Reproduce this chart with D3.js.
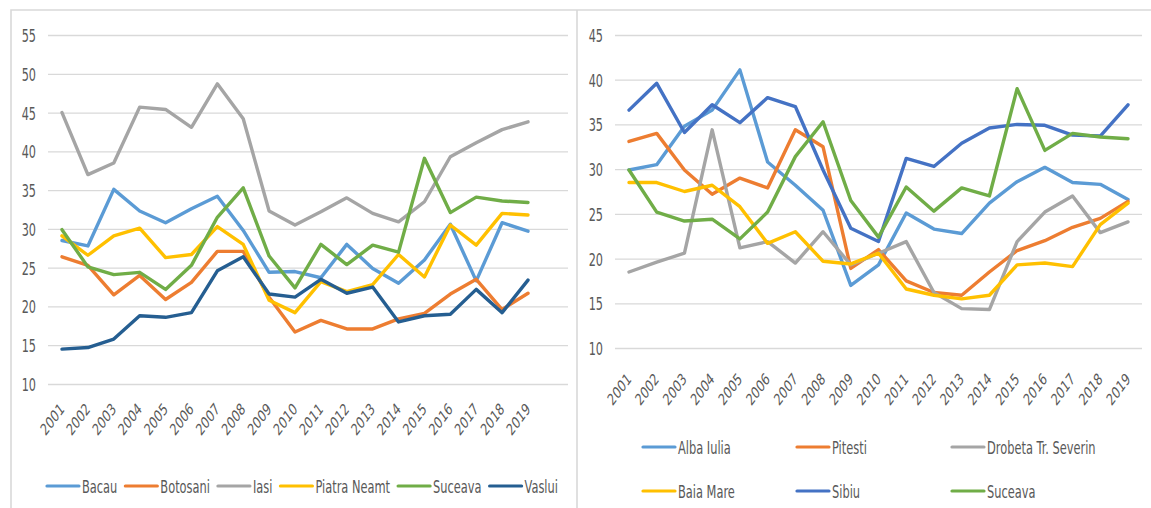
<!DOCTYPE html>
<html>
<head>
<meta charset="utf-8">
<script src="https://cdn.jsdelivr.net/npm/d3@7"></script>
<style>
  body { margin: 0; background: #fff; }
  svg text { font-family: "DejaVu Sans Condensed", "Liberation Sans Narrow", sans-serif; fill: #595959; }
</style>
</head>
<body>
<svg id="chart" width="1151" height="508"></svg>
<script>
// years on the x axis (both panels)
const years = ["2001","2002","2003","2004","2005","2006","2007","2008","2009","2010",
               "2011","2012","2013","2014","2015","2016","2017","2018","2019"];

// left panel
const leftNames = ["Bacau", "Botosani", "Iasi", "Piatra Neamt", "Suceava", "Vaslui"];
const bacau    = [28.5, 27.8, 35.1, 32.3, 30.8, 32.6, 34.2, 29.8, 24.4, 24.5, 23.7, 28.0, 24.9, 23.0, 26.0, 30.6, 23.3, 30.8, 29.7];
const botosani = [26.4, 25.3, 21.5, 24.0, 20.9, 23.1, 27.1, 27.1, 21.2, 16.7, 18.2, 17.1, 17.1, 18.4, 19.1, 21.6, 23.5, 19.6, 21.7];
const iasi     = [45.0, 37.0, 38.5, 45.7, 45.4, 43.1, 48.7, 44.2, 32.3, 30.5, 32.2, 34.0, 32.0, 30.9, 33.5, 39.3, 41.1, 42.8, 43.8];
const piatra   = [29.1, 26.6, 29.1, 30.1, 26.3, 26.7, 30.3, 28.0, 20.8, 19.2, 23.2, 21.9, 22.8, 26.7, 23.8, 30.5, 27.9, 32.0, 31.8];
const suceavaL = [29.9, 25.1, 24.1, 24.4, 22.2, 25.3, 31.5, 35.3, 26.5, 22.4, 28.0, 25.4, 27.9, 27.0, 39.1, 32.1, 34.1, 33.6, 33.4];
const vaslui   = [14.5, 14.7, 15.8, 18.8, 18.6, 19.2, 24.6, 26.4, 21.6, 21.2, 23.5, 21.7, 22.5, 18.0, 18.8, 19.0, 22.2, 19.2, 23.4];
const leftColors = ["#5b9bd5", "#ed7d31", "#a5a5a5", "#ffc000", "#70ad47", "#255e91"];
const leftTicks = [10, 15, 20, 25, 30, 35, 40, 45, 50, 55];

// right panel
const rightNames = ["Alba Iulia", "Pitesti", "Drobeta Tr. Severin", "Baia Mare", "Sibiu", "Suceava"];
const albaIulia = [29.9, 30.5, 34.8, 36.6, 41.1, 30.8, 28.2, 25.4, 17.0, 19.3, 25.1, 23.3, 22.8, 26.2, 28.6, 30.2, 28.5, 28.3, 26.6];
const pitesti   = [33.1, 34.0, 29.9, 27.2, 29.0, 27.9, 34.4, 32.5, 18.9, 21.0, 17.5, 16.2, 15.9, 18.5, 20.9, 22.0, 23.5, 24.5, 26.4];
const drobeta   = [18.5, 19.6, 20.6, 34.4, 21.2, 21.9, 19.5, 23.0, 19.3, 20.6, 21.9, 16.2, 14.4, 14.3, 21.9, 25.2, 27.0, 22.9, 24.1];
const baiaMare  = [28.5, 28.5, 27.5, 28.2, 25.8, 21.7, 23.0, 19.7, 19.4, 20.6, 16.6, 15.9, 15.5, 15.9, 19.3, 19.5, 19.1, 23.8, 26.2];
const sibiu     = [36.6, 39.6, 34.1, 37.2, 35.2, 38.0, 37.0, 29.9, 23.4, 21.9, 31.2, 30.3, 32.9, 34.6, 35.0, 34.9, 33.8, 33.7, 37.2];
const suceavaR  = [29.9, 25.2, 24.2, 24.4, 22.2, 25.2, 31.4, 35.3, 26.5, 22.4, 28.0, 25.3, 27.9, 27.0, 39.0, 32.1, 34.0, 33.6, 33.4];
const rightColors = ["#5b9bd5", "#ed7d31", "#a5a5a5", "#ffc000", "#4472c4", "#70ad47"];
const rightTicks = [10, 15, 20, 25, 30, 35, 40, 45];

const svg = d3.select("#chart");

// panel frames
svg.append("path")
    .attr("d", "M11,520 V10 H1151 M577,10 V520")
    .attr("fill", "none")
    .attr("stroke", "#d9d9d9")
    .attr("stroke-width", 1.6);

function drawPanel(cfg) {
    const x = d3.scalePoint().domain(years).range(cfg.xRange);
    const y = d3.scaleLinear().domain(cfg.yDomain).range(cfg.yRange);
    const g = svg.append("g");

    // gridlines + tick labels
    const yAxis = g.append("g")
        .attr("transform", `translate(${cfg.gridX[0]},0)`)
        .call(d3.axisLeft(y).tickValues(cfg.ticks)
            .tickSizeInner(-(cfg.gridX[1] - cfg.gridX[0])).tickSizeOuter(0));
    yAxis.select(".domain").remove();
    yAxis.selectAll("line").attr("stroke", "#d9d9d9").attr("stroke-width", 1.3);
    yAxis.selectAll("text")
        .attr("x", null).attr("dy", null).attr("y", 4.6)
        .attr("transform", `translate(${cfg.labelRight - cfg.gridX[0]},0) scale(1,1.4)`)
        .attr("text-anchor", "end")
        .style("font-size", "12.5px")
        .attr("fill", "#595959");

    // year labels
    const xAxis = g.append("g")
        .call(d3.axisBottom(x).tickSize(0));
    xAxis.select(".domain").remove();
    xAxis.selectAll(".tick").attr("transform", null);
    xAxis.selectAll("text")
        .attr("x", null).attr("y", null).attr("dy", null)
        .attr("text-anchor", "end")
        .style("font-size", "12px")
        .attr("fill", "#595959")
        .attr("transform", d => `translate(${x(d) + 3},${cfg.yearY}) scale(1,1.37) rotate(-45)`);

    // series lines
    const line = d3.line()
        .x((d, i) => x(years[i]))
        .y(d => y(d));
    cfg.series.forEach((s, i) => {
        g.append("path")
            .datum(s)
            .attr("fill", "none")
            .attr("stroke", cfg.colors[i])
            .attr("stroke-width", 3.4)
            .attr("stroke-linejoin", "round")
            .attr("stroke-linecap", "round")
            .attr("d", line);
    });

    // legend
    const leg = g.append("g");
    let cx = cfg.legendX;
    cfg.names.forEach((name, i) => {
        let lx, ly;
        if (cfg.legendCols) {
            lx = cfg.legendCols[i % 3];
            ly = cfg.legendRows[Math.floor(i / 3)];
        } else {
            lx = cx;
            ly = cfg.legendY;
        }
        leg.append("line")
            .attr("x1", lx).attr("x2", lx + 32)
            .attr("y1", ly).attr("y2", ly)
            .attr("stroke", cfg.colors[i])
            .attr("stroke-width", 3.2)
            .attr("stroke-linecap", "round");
        const t = leg.append("text")
            .attr("transform", `translate(${lx + 35},${ly}) scale(1,1.45)`)
            .attr("y", 4.6)
            .style("font-size", "12.7px")
            .text(name);
        cx = lx + 35 + t.node().getComputedTextLength() + 8;
    });
}

drawPanel({
    xRange: [62, 528], yDomain: [10, 55], yRange: [384, 35],
    gridX: [48, 568], labelRight: 36, ticks: leftTicks, yearY: 410,
    series: [bacau, botosani, iasi, piatra, suceavaL, vaslui],
    colors: leftColors, names: leftNames,
    legendX: 47, legendY: 486
});

drawPanel({
    xRange: [629, 1128], yDomain: [10, 45], yRange: [348, 35],
    gridX: [615, 1142], labelRight: 603, ticks: rightTicks, yearY: 380,
    series: [albaIulia, pitesti, drobeta, baiaMare, sibiu, suceavaR],
    colors: rightColors, names: rightNames,
    legendCols: [643, 797, 952], legendRows: [447, 491]
});
</script>
</body>
</html>
